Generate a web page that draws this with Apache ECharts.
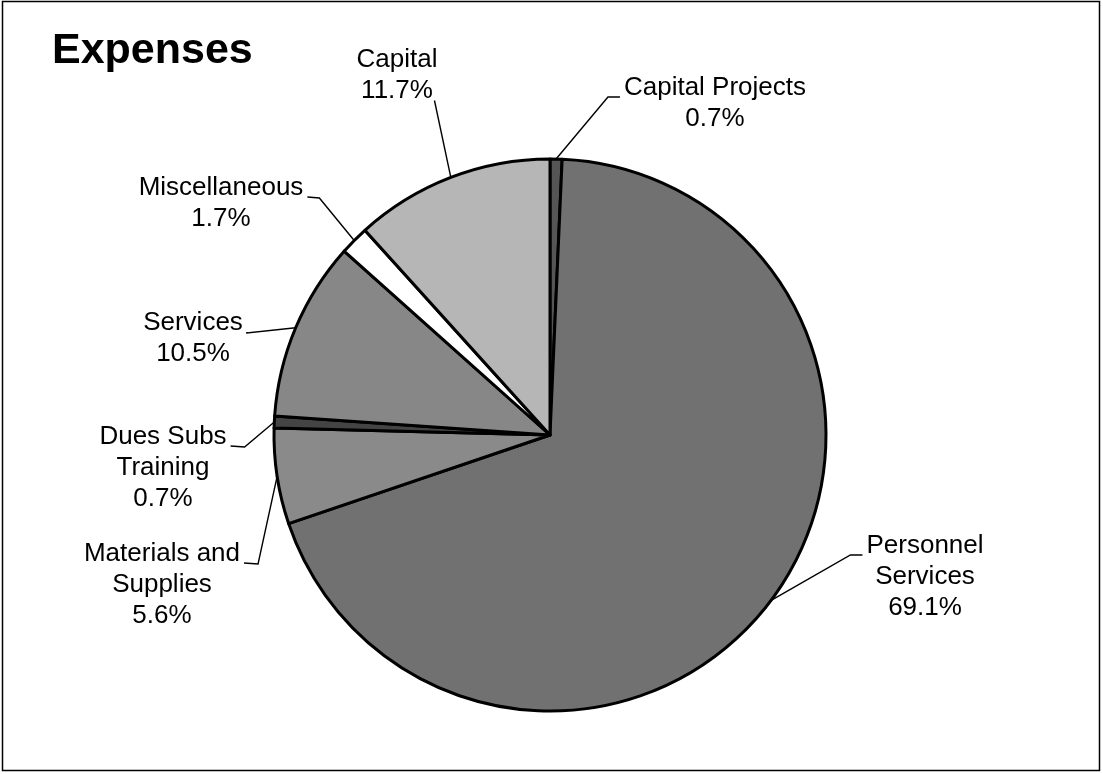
<!DOCTYPE html>
<html>
<head>
<meta charset="utf-8">
<title>Expenses</title>
<script src="https://cdn.jsdelivr.net/npm/echarts@6/dist/echarts.min.js"></script>
<style>
  html, body { margin: 0; padding: 0; background: #fff; }
  #chart { width: 1103px; height: 774px; }
</style>
</head>
<body>
<div id="chart"></div>
<script>
// Expense categories, clockwise from 12 o'clock
const categories = [
  'Capital Projects',
  'Personnel\nServices',
  'Materials and\nSupplies',
  'Dues Subs\nTraining',
  'Services',
  'Miscellaneous',
  'Capital'
];
// Share of total expenses (%)
const shares = [0.7, 69.1, 5.6, 0.7, 10.5, 1.7, 11.7];

// Slice fills (grayscale)
const sliceColors = ['#555555', '#717171', '#8a8a8a', '#444444', '#878787', '#ffffff', '#b6b6b6'];

// Label placement: centre x, first-line centre y, which side the leader attaches, elbow length
const LINE_H = 31;
const labelPlacement = [
  { cx: 715, cy: 88,  side: 'left',   elbow: 12 },
  { cx: 925, cy: 546, side: 'left',   elbow: 12 },
  { cx: 162, cy: 554, side: 'right',  elbow: 14 },
  { cx: 163, cy: 437, side: 'right',  elbow: 14 },
  { cx: 193, cy: 323, side: 'right',  elbow: 0 },
  { cx: 221, cy: 188, side: 'right',  elbow: 12 },
  { cx: 397, cy: 60,  side: 'bottom', elbow: 0 }
];

const chart = echarts.init(document.getElementById('chart'), null, { renderer: 'canvas' });

const pieData = categories.map((name, i) => ({
  name: name,
  value: shares[i],
  itemStyle: { color: sliceColors[i] }
}));

chart.setOption({
  animation: false,
  backgroundColor: '#ffffff',
  title: {
    text: 'Expenses',
    left: 52,
    top: 30,
    padding: 0,
    textStyle: {
      fontFamily: 'Liberation Sans, Arial, sans-serif',
      fontSize: 43,
      fontWeight: 'bold',
      color: '#000'
    }
  },
  graphic: [{
    type: 'rect',
    shape: { x: 2.5, y: 1.5, width: 1097, height: 769 },
    style: { fill: 'none', stroke: '#000', lineWidth: 1.5 },
    silent: true
  }],
  series: [{
    type: 'pie',
    center: [550, 435],
    radius: 276,
    startAngle: 90,
    clockwise: true,
    avoidLabelOverlap: false,
    silent: true,
    itemStyle: { borderColor: '#000', borderWidth: 3 },
    emphasis: { disabled: true },
    label: {
      show: true,
      position: 'outside',
      fontFamily: 'Liberation Sans, Arial, sans-serif',
      fontSize: 26,
      lineHeight: LINE_H,
      color: '#000',
      align: 'center',
      formatter: p => p.name + '\n' + p.value.toFixed(1) + '%'
    },
    labelLine: {
      show: true,
      length: 20,
      length2: 10,
      lineStyle: { color: '#000', width: 1.4 }
    },
    labelLayout: function (params) {
      const pl = labelPlacement[params.dataIndex];
      const w = params.labelRect.width;
      const h = params.labelRect.height;
      const top = pl.cy - LINE_H / 2;
      const left = pl.cx - w / 2;
      const right = pl.cx + w / 2;
      const base1 = pl.cy + 9;
      let anchor, elbowPt;
      if (pl.side === 'right') {
        anchor = [right + 4, base1];
        elbowPt = [anchor[0] + pl.elbow, base1 + 1];
      } else if (pl.side === 'left') {
        anchor = [left - 4, base1];
        elbowPt = [anchor[0] - pl.elbow, base1];
      } else {
        anchor = [right - 3, top + h - 6];
        elbowPt = anchor;
      }
      const edge = params.labelLinePoints ? params.labelLinePoints[0] : anchor;
      return {
        x: pl.cx,
        y: top,
        align: 'center',
        verticalAlign: 'top',
        labelLinePoints: [edge, elbowPt, anchor]
      };
    },
    data: pieData
  }]
});
</script>
</body>
</html>
